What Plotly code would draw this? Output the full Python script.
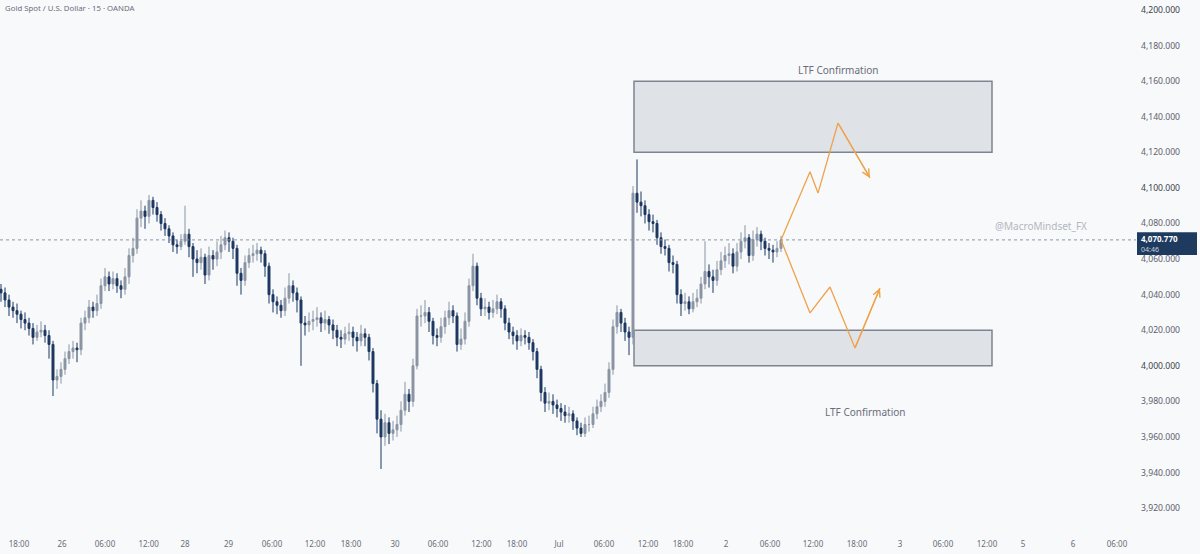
import plotly.graph_objects as go

# ---------------- data ----------------
close = [4041,4037,4033,4031,4029,4026,4024,4021,4016,4019,
         4020,4017,4012,3992,3994,3998,4004,4008,4010,4009,
         4024,4027,4033,4031,4035,4045,4050,4046,4049,4045,
         4043,4050,4062,4066,4083,4087,4084,4093,4089,4085,
         4080,4077,4073,4068,4067,4070,4074,4067,4060,4058,
         4061,4051,4062,4060,4064,4068,4072,4070,4066,4052,
         4048,4058,4062,4063,4065,4063,4056,4040,4036,4034,
         4031,4038,4045,4041,4037,4024,4023,4025,4026,4027,
         4024,4026,4023,4020,4016,4015,4018,4019,4016,4014,
         4018,4016,4008,3990,3970,3960,3968,3962,3964,3967,
         3975,3984,3980,4000,4028,4028,4030,4025,4017,4016,
         4022,4027,4031,4028,4012,4015,4025,4045,4056,4038,
         4032,4033,4030,4032,4036,4032,4024,4019,4017,4014,
         4017,4016,4013,4008,3998,3985,3979,3980,3978,3976,
         3974,3972,3973,3969,3965,3962,3967,3967,3973,3977,
         3980,3985,3998,4022,4030,4024,4019,4016,4097,4092,
         4090,4085,4081,4080,4072,4067,4066,4058,4057,4040,
         4035,4036,4032,4036,4038,4046,4053,4050,4048,4054,
         4059,4062,4063,4056,4064,4070,4072,4062,4071,4074,
         4070,4066,4065,4064,4066,4070.77]

high = [4046,4044,4040,4036,4035,4031,4030,4027,4024,4023,
        4025,4023,4020,4014,3998,4002,4008,4012,4014,4013,
        4027,4031,4037,4036,4040,4049,4055,4053,4053,4052,
        4048,4055,4066,4072,4088,4093,4090,4096,4095,4092,
        4087,4083,4079,4075,4071,4074,4090,4077,4069,4065,
        4066,4063,4067,4065,4070,4073,4076,4075,4072,4068,
        4055,4062,4066,4068,4069,4067,4065,4058,4043,4039,
        4037,4044,4052,4048,4044,4039,4028,4030,4031,4033,
        4030,4031,4028,4026,4023,4020,4022,4024,4022,4019,
        4023,4021,4018,4010,3992,3975,3973,3971,3969,3972,
        3980,3991,3987,4004,4032,4034,4037,4033,4027,4021,
        4027,4031,4036,4034,4030,4021,4030,4049,4063,4058,
        4041,4038,4036,4037,4040,4038,4034,4027,4022,4020,
        4021,4020,4019,4015,4010,4000,3988,3985,3984,3981,
        3979,3978,3977,3975,3971,3968,3971,3972,3977,3981,
        3984,3990,4002,4026,4034,4032,4027,4022,4101,4116,
        4098,4093,4088,4085,4082,4075,4071,4068,4062,4059,
        4043,4041,4039,4041,4043,4050,4070,4057,4054,4059,
        4064,4067,4069,4066,4069,4075,4079,4074,4076,4078,
        4076,4072,4069,4068,4070,4073]

low = [4036,4033,4028,4027,4024,4021,4020,4017,4012,4014,
       4016,4013,4004,3983,3987,3990,3995,4001,4004,4002,
       4006,4020,4024,4027,4028,4032,4042,4042,4043,4041,
       4038,4040,4046,4058,4063,4078,4077,4080,4085,4081,
       4076,4073,4069,4064,4063,4065,4068,4061,4050,4052,
       4054,4046,4048,4054,4056,4060,4065,4064,4060,4045,
       4040,4045,4055,4058,4059,4058,4050,4035,4030,4029,
       4027,4028,4035,4036,4030,4000,4017,4019,4020,4022,
       4019,4020,4018,4015,4011,4010,4012,4014,4011,4008,
       4011,4011,4003,3985,3962,3942,3955,3956,3958,3960,
       3963,3972,3974,3977,3998,4022,4024,4019,4012,4011,
       4013,4018,4023,4024,4008,4009,4012,4022,4042,4034,
       4028,4028,4026,4027,4029,4027,4020,4015,4012,4009,
       4011,4012,4009,4003,3993,3980,3974,3975,3973,3971,
       3969,3968,3968,3964,3961,3960,3960,3963,3965,3970,
       3974,3977,3982,3995,4018,4019,4014,4006,4012,4086,
       4084,4080,4076,4075,4068,4063,4062,4053,4052,4035,
       4028,4031,4029,4030,4033,4035,4043,4044,4041,4045,
       4051,4055,4057,4052,4053,4060,4066,4058,4059,4067,
       4065,4062,4060,4058,4061,4064]

first_open = 4043
open_ = [first_open] + close[:-1]
bar_idx = list(range(len(close)))

last_price = 4070.77
countdown = "04:46"

# time axis labels (position in candle units)
tick_pos = [4.5, 15.25, 26, 36.9, 46, 56.9, 67.75, 78.5, 87.5, 98.5, 109.25, 120.1,
            129, 139.5, 150.75, 161.75, 170.5, 181.25, 192.25, 203, 214, 224.75,
            235.5, 246.5, 255.5, 268, 279]
tick_text = ["18:00", "26", "06:00", "12:00", "28", "29", "06:00", "12:00", "18:00",
             "30", "06:00", "12:00", "18:00", "Jul", "06:00", "12:00", "18:00", "2",
             "06:00", "12:00", "18:00", "3", "06:00", "12:00", "5", "6", "06:00"]

price_ticks = list(range(3920, 4201, 20))

# zones (price) and their time span (candle units)
zone_upper = [4120, 4160]
zone_lower = [4000, 4020]
zone_span = [158.25, 247.75]

# projected paths
proj_up_x = [195, 202.25, 204.25, 209.25, 217.25]
proj_up_y = [4070.77, 4109.1, 4097.1, 4136.5, 4105.6]
proj_dn_x = [195, 202.25, 207.25, 213.5, 219.75]
proj_dn_y = [4070.77, 4029.7, 4044.3, 4010.0, 4043.7]

# ---------------- figure ----------------
FONT = "Noto Sans"
NAVY = "#1c3760"
GRAY = "#8a94a3"
ORANGE = "#f0a24a"
TXT = "#6a6d78"
PLOT_W = 1136

fig = go.Figure()

fig.add_trace(go.Candlestick(
    x=bar_idx, open=open_, high=high, low=low, close=close,
    increasing=dict(line=dict(color=GRAY, width=1), fillcolor=GRAY),
    decreasing=dict(line=dict(color=NAVY, width=1), fillcolor=NAVY),
    whiskerwidth=0, hoverinfo="skip", showlegend=False,
))

for xs, ys in [(proj_up_x, proj_up_y), (proj_dn_x, proj_dn_y)]:
    fig.add_trace(go.Scatter(x=xs, y=ys, mode="lines",
                             line=dict(color=ORANGE, width=1.3),
                             hoverinfo="skip", showlegend=False))
    fig.add_annotation(x=xs[-1], y=ys[-1], ax=xs[-2], ay=ys[-2],
                       xref="x", yref="y", axref="x", ayref="y",
                       showarrow=True, arrowhead=5, arrowsize=1.1,
                       arrowwidth=1.3, arrowcolor=ORANGE, text="")

for zone in (zone_upper, zone_lower):
    fig.add_shape(type="rect", xref="x", yref="y",
                  x0=zone_span[0], x1=zone_span[1], y0=zone[0], y1=zone[1],
                  fillcolor="#dfe2e7", line=dict(color="#7d8591", width=1.5),
                  layer="below")

fig.add_annotation(x=209.25, y=4166.3, text="LTF Confirmation", showarrow=False,
                   font=dict(family=FONT, size=10, color=TXT))
fig.add_annotation(x=216, y=3974.0, text="LTF Confirmation", showarrow=False,
                   font=dict(family=FONT, size=10, color=TXT))

fig.add_annotation(x=260, y=4078.6, text="@MacroMindset_FX", showarrow=False,
                   font=dict(family=FONT, size=10, color="#b3b7bf"))

# last price line
fig.add_shape(type="line", xref="paper", yref="y", x0=0, x1=1,
              y0=last_price, y1=last_price,
              line=dict(color="#8794a8", width=1, dash="dot"))

# price label box on axis
fig.add_shape(type="rect", xref="paper", yref="y",
              x0=1137 / PLOT_W, x1=1197 / PLOT_W,
              y0=4062.3, y1=4075.0, fillcolor="#1e3a5f", line=dict(width=0))
fig.add_annotation(xref="paper", yref="y", x=1140 / PLOT_W, y=4075.4,
                   text=("<b>4,070.770</b><br>"
                         f"<span style='font-size:7px;color:#c9d1dd'>{countdown}</span>"),
                   showarrow=False, xanchor="left", yanchor="top", align="left",
                   borderpad=0,
                   font=dict(family=FONT, size=8, color="white"))

# title
fig.add_annotation(xref="paper", yref="paper", x=0.0025, y=0.985,
                   text="Gold Spot / U.S. Dollar · 15 · OANDA", showarrow=False,
                   xanchor="left", yanchor="middle",
                   font=dict(family=FONT, size=7.8, color=TXT))

ytext = []
for v in price_ticks:
    s = f"{v:,.3f}"
    if v % 100 == 0:
        s = f"<span style='color:#3c3f4a'>{s}</span>"
    ytext.append(s)

fig.update_layout(
    width=1200, height=554,
    margin=dict(l=0, r=1200 - PLOT_W, t=0, b=24),
    paper_bgcolor="#f8f9fb", plot_bgcolor="#f8f9fb",
    font=dict(family=FONT, size=8, color=TXT),
    showlegend=False,
    xaxis=dict(range=[-0.25, PLOT_W / 4 - 0.25], rangeslider=dict(visible=False),
               showgrid=False, zeroline=False, showline=False,
               tickmode="array", tickvals=tick_pos, ticktext=tick_text,
               ticks="", ticklabelstandoff=8,
               tickfont=dict(family=FONT, size=8, color=TXT)),
    yaxis=dict(side="right", range=[3907.7, 4205.62],
               showgrid=False, zeroline=False, showline=False,
               tickmode="array", tickvals=price_ticks, ticktext=ytext,
               ticks="", ticklabelstandoff=4,
               tickfont=dict(family=FONT, size=8.6, color="#5d606b")),
)

fig.write_html("out.html")
